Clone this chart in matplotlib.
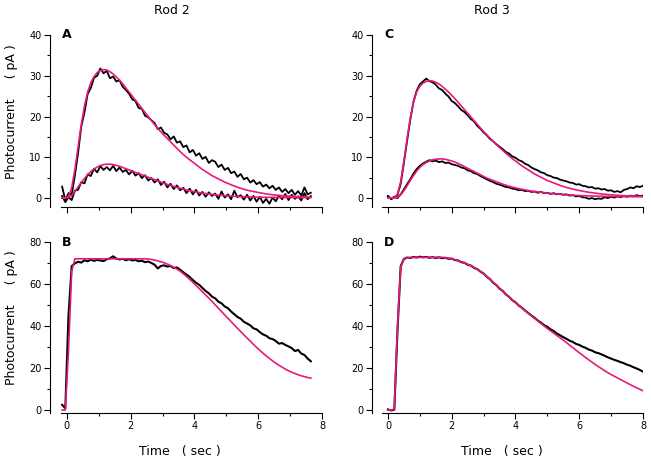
import numpy as np
import matplotlib
matplotlib.use("Agg")
from matplotlib import pyplot as plt
from matplotlib.ticker import MultipleLocator

# sample spacing of the traces (sec)
dt = 0.1

# ---- Rod 2, panel A (dim flashes), samples start at -0.15 s
a_t0 = -0.15
a_big = [2.8, -0.5, 1.2, 0.8, 5.5, 11.0, 17.5, 21.0, 25.5, 27.0, 29.5, 30.0, 31.8, 30.6, 31.2, 29.4,
         29.8, 28.6, 28.9, 27.3, 26.5, 25.6, 24.2, 23.8, 22.1, 21.9, 20.2, 19.8, 19.1, 18.4, 16.9, 17.3,
         16.0, 15.6, 14.4, 15.1, 13.6, 13.9, 12.5, 12.9, 11.2, 11.8, 10.4, 11.0, 9.6, 10.1, 8.6, 9.3,
         8.9, 7.6, 8.2, 6.9, 7.4, 6.1, 6.5, 5.2, 5.9, 4.6, 5.0, 3.8, 4.4, 3.4, 3.9, 2.8, 3.3, 2.4,
         3.0, 2.0, 2.6, 1.5, 2.2, 1.2, 2.0, 0.8, 1.7, 0.6, 2.6, 0.9, 1.3]
a_big_fit = [0, 0, 0.3, 2.5, 7.0, 12.5, 18.0, 22.5, 26.0, 28.3, 29.8, 30.8, 31.3, 31.5, 31.4, 31.0,
             30.4, 29.7, 28.9, 28.0, 27.0, 26.0, 25.0, 24.0, 23.0, 22.0, 21.0, 20.0, 19.0, 18.0, 17.1, 16.2,
             15.4, 14.6, 13.8, 13.0, 12.2, 11.4, 10.7, 10.0, 9.4, 8.8, 8.2, 7.6, 7.0, 6.5, 6.0, 5.5,
             5.1, 4.7, 4.3, 3.9, 3.6, 3.25, 2.95, 2.65, 2.4, 2.15, 1.95, 1.75, 1.6, 1.45, 1.3, 1.15,
             1.0, 0.9, 0.8, 0.72, 0.65, 0.58, 0.52, 0.46, 0.41, 0.37, 0.33, 0.3, 0.27, 0.24, 0.22]
a_small = [0.5, -1.0, 0.2, -0.5, 1.8, 2.0, 3.9, 3.6, 5.8, 5.4, 7.2, 6.3, 7.8, 6.9, 7.6, 6.8,
           7.9, 6.6, 7.5, 6.4, 6.9, 5.8, 6.7, 5.5, 6.1, 4.9, 5.6, 4.3, 4.9, 3.8, 4.6, 3.2,
           4.0, 2.6, 3.5, 2.2, 3.1, 1.9, 2.5, 1.2, 2.3, 0.9, 2.0, 0.6, 1.5, 0.3, 1.4, 0.5,
           1.1, -0.2, 1.6, 0.1, 0.9, -0.3, 1.8, 0.2, 0.7, -0.4, 0.8, -0.6, 0.5, -0.9, 0.3, -1.2,
           -0.2, -1.4, 0.1, -0.8, 0.6, -0.3, 1.0, -0.5, 0.8, -0.2, 0.4, -0.6, 1.2, -0.3, 0.5]
a_small_fit = [0, 0, 0.1, 0.6, 1.6, 2.7, 3.8, 4.8, 5.7, 6.5, 7.1, 7.6, 8.0, 8.2, 8.3, 8.3,
               8.2, 8.0, 7.8, 7.5, 7.2, 6.9, 6.6, 6.3, 6.0, 5.7, 5.4, 5.1, 4.8, 4.5, 4.2, 3.9,
               3.6, 3.35, 3.1, 2.85, 2.6, 2.4, 2.2, 2.0, 1.8, 1.65, 1.5, 1.35, 1.2, 1.1, 1.0, 0.9,
               0.8, 0.72, 0.65, 0.58, 0.52, 0.47, 0.42, 0.38, 0.34, 0.31, 0.28, 0.26, 0.24, 0.22, 0.2, 0.19,
               0.18, 0.17, 0.16, 0.15, 0.14, 0.14, 0.13, 0.13, 0.12, 0.12, 0.12, 0.11, 0.11, 0.11, 0.11]

# ---- Rod 3, panel C, samples start at 0 s
c_t0 = 0.0
c_big = [0.5, -0.3, 0.2, 0.8, 3.5, 8.6, 14.0, 19.2, 23.6, 26.3, 27.9, 28.6, 29.3, 28.7, 28.4, 27.8,
         26.9, 26.5, 25.6, 24.9, 23.8, 23.3, 22.5, 21.6, 21.1, 20.3, 19.4, 18.8, 17.7, 17.0, 16.1, 15.4,
         14.5, 13.9, 13.2, 12.6, 12.0, 11.3, 10.9, 10.2, 9.9, 9.3, 9.0, 8.4, 8.1, 7.5, 7.1, 6.8,
         6.3, 6.1, 5.6, 5.4, 5.0, 4.9, 4.5, 4.3, 4.1, 3.8, 3.7, 3.3, 3.4, 3.0, 2.9, 2.6,
         2.7, 2.3, 2.4, 2.1, 2.2, 1.8, 1.9, 1.5, 1.7, 1.4, 2.0, 2.2, 2.6, 2.4, 2.9, 2.7, 3.0]
c_big_fit = [0, 0, 0.1, 1.0, 4.0, 9.0, 14.5, 19.5, 23.5, 26.0, 27.4, 28.2, 28.6, 28.8, 28.7, 28.4,
             28.0, 27.4, 26.7, 26.0, 25.2, 24.4, 23.5, 22.6, 21.7, 20.8, 19.9, 19.0, 18.1, 17.2, 16.3, 15.5,
             14.7, 13.9, 13.1, 12.4, 11.7, 11.0, 10.3, 9.7, 9.1, 8.5, 7.9, 7.4, 6.9, 6.4, 5.9, 5.5,
             5.1, 4.7, 4.3, 4.0, 3.7, 3.4, 3.1, 2.85, 2.6, 2.4, 2.2, 2.0, 1.85, 1.7, 1.55, 1.42,
             1.3, 1.2, 1.1, 1.0, 0.92, 0.85, 0.78, 0.72, 0.67, 0.62, 0.58, 0.54, 0.5, 0.47, 0.44, 0.42, 0.4]
c_small = [0.4, -0.2, 0.3, 0.0, 0.9, 2.1, 3.4, 4.6, 6.0, 7.1, 7.9, 8.5, 8.9, 9.3, 9.0, 9.2,
           8.8, 9.0, 8.6, 8.7, 8.3, 8.1, 7.9, 7.5, 7.3, 6.8, 6.6, 6.1, 5.9, 5.4, 5.0, 4.6,
           4.2, 3.9, 3.5, 3.3, 3.0, 2.7, 2.6, 2.3, 2.2, 1.9, 2.0, 1.7, 1.8, 1.5, 1.6, 1.3,
           1.5, 1.2, 1.3, 1.0, 1.2, 0.9, 1.0, 0.8, 0.9, 0.6, 0.7, 0.4, 0.5, 0.2, 0.1, -0.2,
           0.0, -0.3, -0.1, -0.2, 0.2, 0.0, 0.3, 0.1, 0.4, 0.2, 0.5, 0.3, 0.6, 0.4, 0.7, 0.5, 0.6]
c_small_fit = [0, 0, 0, 0.2, 0.8, 1.8, 3.0, 4.3, 5.5, 6.6, 7.5, 8.2, 8.7, 9.1, 9.4, 9.5,
               9.6, 9.6, 9.5, 9.3, 9.1, 8.8, 8.5, 8.1, 7.7, 7.3, 6.9, 6.5, 6.1, 5.7, 5.3, 4.9,
               4.6, 4.3, 4.0, 3.7, 3.4, 3.15, 2.9, 2.7, 2.5, 2.3, 2.15, 2.0, 1.85, 1.7, 1.6, 1.5,
               1.4, 1.3, 1.2, 1.12, 1.05, 0.98, 0.92, 0.86, 0.8, 0.75, 0.7, 0.66, 0.62, 0.58, 0.55, 0.52,
               0.5, 0.48, 0.46, 0.44, 0.42, 0.41, 0.4, 0.39, 0.38, 0.37, 0.36, 0.36, 0.35, 0.35, 0.34, 0.34, 0.34]

# ---- Rod 2, panel B (saturating flash), samples start at -0.15 s
b_t0 = -0.15
b_sat = [2.5, 0.8, 45.0, 68.5, 69.8, 70.6, 70.2, 71.3, 70.8, 71.6, 71.0, 71.5, 71.2, 70.9, 71.8, 72.2,
         73.2, 72.1, 71.7, 72.0, 71.3, 71.8, 71.2, 71.5, 70.8, 71.1, 70.4, 70.7, 70.0, 69.2, 67.4, 68.6,
         68.9, 68.3, 68.6, 67.6, 67.9, 66.8, 65.6, 64.5, 63.4, 61.9, 60.6, 59.6, 58.1, 56.7, 55.6, 54.0,
         53.2, 51.6, 50.8, 49.3, 48.5, 46.9, 45.6, 44.3, 43.5, 42.0, 41.2, 40.3, 38.9, 38.4, 37.1, 36.0,
         35.4, 34.2, 33.8, 32.9, 31.6, 31.9, 31.0, 30.3, 29.5, 28.1, 28.6, 26.9, 26.2, 24.5, 23.2]
b_sat_fit = [0, 0, 28.0, 66.0, 72.0, 72.0, 72.0, 72.0, 72.0, 72.0, 72.0, 72.0, 72.0, 72.0, 72.0, 72.0,
             72.0, 72.0, 72.0, 72.0, 72.0, 72.0, 72.0, 72.0, 72.0, 72.0, 72.0, 71.9, 71.7, 71.4, 71.0, 70.6,
             70.1, 69.5, 68.8, 68.0, 67.1, 66.1, 64.9, 63.6, 62.2, 60.8, 59.3, 57.8, 56.3, 54.8, 53.3, 51.7,
             50.1, 48.5, 46.9, 45.3, 43.7, 42.1, 40.5, 38.9, 37.4, 35.8, 34.3, 32.8, 31.3, 29.8, 28.4, 27.1,
             25.8, 24.6, 23.4, 22.3, 21.3, 20.4, 19.5, 18.7, 18.0, 17.4, 16.8, 16.3, 15.9, 15.5, 15.2]

# ---- Rod 3, panel D, samples start at 0 s
d_t0 = 0.0
d_sat = [0.3, -0.2, 0.2, 38.0, 68.5, 71.9, 72.6, 72.4, 72.9, 72.6, 73.0, 72.7, 72.9, 72.5, 72.8, 72.4,
         72.7, 72.3, 72.5, 72.0, 72.1, 71.4, 71.2, 70.4, 70.1, 69.2, 68.8, 67.7, 67.1, 65.9, 65.0, 63.5,
         62.3, 60.6, 59.5, 57.8, 56.7, 55.0, 53.9, 52.3, 51.3, 49.8, 48.7, 47.4, 46.2, 45.0, 43.9, 42.6,
         41.6, 40.4, 39.6, 38.4, 37.6, 36.4, 35.6, 34.7, 33.9, 33.0, 32.4, 31.5, 31.0, 30.2, 29.6, 28.8,
         28.3, 27.5, 27.1, 26.5, 25.8, 25.1, 24.5, 23.9, 23.4, 22.8, 22.3, 21.6, 21.1, 20.4, 19.8, 19.1, 18.3]
d_sat_fit = [0, 0, 0.5, 40.0, 68.0, 71.8, 72.4, 72.6, 72.7, 72.7, 72.7, 72.7, 72.7, 72.7, 72.7, 72.7,
             72.7, 72.7, 72.5, 72.3, 72.0, 71.6, 71.1, 70.6, 70.0, 69.4, 68.7, 67.9, 67.0, 66.0, 64.9, 63.6,
             62.2, 60.8, 59.4, 58.0, 56.6, 55.2, 53.8, 52.5, 51.2, 49.9, 48.6, 47.3, 46.0, 44.8, 43.6, 42.4,
             41.2, 40.0, 38.8, 37.7, 36.6, 35.5, 34.4, 33.3, 32.1, 30.9, 29.7, 28.5, 27.3, 26.2, 25.0, 23.9,
             22.8, 21.7, 20.7, 19.7, 18.7, 17.8, 16.9, 16.1, 15.3, 14.5, 13.7, 12.9, 12.1, 11.3, 10.6, 9.9, 9.2]

rod_titles = ["Rod 2", "Rod 3"]
panel_letters = ["A", "C", "B", "D"]

MAG = "#e8197d"
W, H = 651, 462


def tgrid(t0, vals):
    return t0 + dt * np.arange(len(vals))


def box(l, r, top, bot):
    # pixel box -> figure fraction
    return [l / W, (H - bot) / H, (r - l) / W, (bot - top) / H]


def style(ax, xmin, ylim, ymaj, ymin, labels):
    for s in ["top", "right"]:
        ax.spines[s].set_visible(False)
    ax.spines["bottom"].set_bounds(-0.18, 8)
    ax.set_xlim(xmin, 8)
    ax.set_ylim(*ylim)
    ax.xaxis.set_major_locator(MultipleLocator(2))
    ax.xaxis.set_minor_locator(MultipleLocator(1))
    ax.yaxis.set_major_locator(MultipleLocator(ymaj))
    ax.yaxis.set_minor_locator(MultipleLocator(ymin))
    ax.set_yticks([v for v in ax.get_yticks() if 0 <= v <= ylim[1]])
    ax.tick_params(which="major", length=4, width=0.8, labelsize=7, pad=2)
    ax.tick_params(which="minor", length=2.5, width=0.8)
    if not labels:
        ax.tick_params(axis="x", labelbottom=False)
    ax.set_xlim(xmin, 8)


fig = plt.figure(figsize=(6.51, 4.62), dpi=100)

axA = fig.add_axes(box(50, 322, 35, 207))
axC = fig.add_axes(box(372, 643, 35, 207))
axB = fig.add_axes(box(50, 322, 242, 413))
axD = fig.add_axes(box(372, 643, 242, 413))

# black recordings, magenta model fits on top
axA.plot(tgrid(a_t0, a_big), a_big, color="black", lw=1.3)
axA.plot(tgrid(a_t0, a_small), a_small, color="black", lw=1.3)
axA.plot(tgrid(a_t0, a_big_fit), a_big_fit, color=MAG, lw=1.2)
axA.plot(tgrid(a_t0, a_small_fit), a_small_fit, color=MAG, lw=1.2)

axC.plot(tgrid(c_t0, c_big), c_big, color="black", lw=1.3)
axC.plot(tgrid(c_t0, c_small), c_small, color="black", lw=1.3)
axC.plot(tgrid(c_t0, c_big_fit), c_big_fit, color=MAG, lw=1.2)
axC.plot(tgrid(c_t0, c_small_fit), c_small_fit, color=MAG, lw=1.2)

axB.plot(tgrid(b_t0, b_sat), b_sat, color="black", lw=1.5)
axB.plot(tgrid(b_t0, b_sat_fit), b_sat_fit, color=MAG, lw=1.2)

axD.plot(tgrid(d_t0, d_sat), d_sat, color="black", lw=1.5)
axD.plot(tgrid(d_t0, d_sat_fit), d_sat_fit, color=MAG, lw=1.2)

style(axA, -0.53, (-2.2, 40), 10, 5, False)
style(axC, -0.5, (-2.2, 40), 10, 5, False)
style(axB, -0.53, (-1.4, 80), 20, 10, True)
style(axD, -0.5, (-1.4, 80), 20, 10, True)

# panel letters
for ax, letter in zip([axA, axC, axB, axD], panel_letters):
    ax.text(0.045, 1.0, letter, transform=ax.transAxes, fontsize=9,
            fontweight="bold", va="center", ha="left")

fig.text(172 / W, 1 - 11 / H, rod_titles[0], fontsize=9, ha="center", va="center")
fig.text(492 / W, 1 - 11 / H, rod_titles[1], fontsize=9, ha="center", va="center")

fig.text(12 / W, 1 - 112 / H, "Photocurrent     ( pA )", rotation=90, fontsize=9,
         ha="center", va="center")
fig.text(12 / W, 1 - 318 / H, "Photocurrent     ( pA )", rotation=90, fontsize=9,
         ha="center", va="center")
fig.text(180 / W, 1 - 451 / H, "Time   ( sec )", fontsize=9, ha="center", va="center")
fig.text(502 / W, 1 - 451 / H, "Time   ( sec )", fontsize=9, ha="center", va="center")

fig.savefig("out.png", dpi=100)
